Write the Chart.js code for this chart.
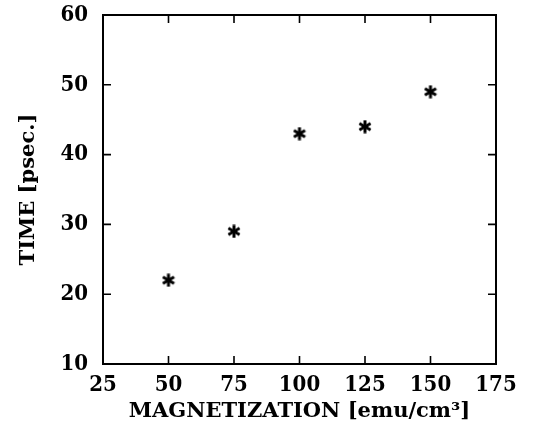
<!DOCTYPE html>
<html>
<head>
<meta charset="utf-8">
<script src="https://cdn.jsdelivr.net/npm/chart.js@4/dist/chart.umd.min.js"></script>
<style>
  html, body { margin: 0; padding: 0; background: #fff; }
  #wrap { width: 533px; height: 440px; }
</style>
</head>
<body>
<div id="wrap"><canvas id="chart" width="533" height="440"></canvas></div>
<script>
// values
const magnetization = [50, 75, 100, 125, 150];
const timePsec = [22, 29, 43, 44, 49];
const xTicks = [25, 50, 75, 100, 125, 150, 175];
const yTicks = [10, 20, 30, 40, 50, 60];

const serifNarrow = "'DejaVu Serif Condensed', 'DejaVu Serif', serif";
const serif = "'DejaVu Serif', serif";

// six-armed asterisk marker
function makeAsterisk(size) {
  const c = document.createElement("canvas");
  c.width = size;
  c.height = size;
  const g = c.getContext("2d");
  g.strokeStyle = "#000";
  g.lineWidth = 3;
  const r = size / 2 - 0.5;
  for (let i = 0; i < 3; i++) {
    const a = Math.PI / 2 + (i * Math.PI) / 3;
    g.beginPath();
    g.moveTo(size / 2 + r * Math.cos(a), size / 2 + r * Math.sin(a));
    g.lineTo(size / 2 - r * Math.cos(a), size / 2 - r * Math.sin(a));
    g.stroke();
  }
  return c;
}

// frame plus inward ticks on all four sides
const frameTicks = {
  id: "frameTicks",
  afterDraw(chart) {
    const { ctx, chartArea: a, scales } = chart;
    const len = 8;
    ctx.save();
    ctx.strokeStyle = "#000";
    ctx.lineWidth = 2;
    ctx.strokeRect(a.left, a.top, a.right - a.left, a.bottom - a.top);
    ctx.lineWidth = 1.6;
    ctx.beginPath();
    xTicks.slice(1, -1).forEach((v) => {
      const px = scales.x.getPixelForValue(v);
      ctx.moveTo(px, a.bottom);
      ctx.lineTo(px, a.bottom - len);
      ctx.moveTo(px, a.top);
      ctx.lineTo(px, a.top + len);
    });
    yTicks.slice(1, -1).forEach((v) => {
      const py = scales.y.getPixelForValue(v);
      ctx.moveTo(a.left, py);
      ctx.lineTo(a.left + len, py);
      ctx.moveTo(a.right, py);
      ctx.lineTo(a.right - len, py);
    });
    ctx.stroke();
    ctx.restore();
  },
};

const ctx = document.getElementById("chart").getContext("2d");
const chart = new Chart(ctx, {
  type: "scatter",
  data: {
    datasets: [
      {
        data: magnetization.map((m, i) => ({ x: m, y: timePsec[i] })),
        pointStyle: makeAsterisk(14),
        pointRadius: 7,
        pointHoverRadius: 7,
      },
    ],
  },
  options: {
    responsive: false,
    animation: false,
    layout: { padding: { left: 0, right: 37, top: 15, bottom: 0 } },
    plugins: { legend: { display: false }, tooltip: { enabled: false } },
    scales: {
      x: {
        type: "linear",
        min: 25,
        max: 175,
        afterBuildTicks: (s) => {
          s.ticks = xTicks.map((v) => ({ value: v }));
        },
        afterFit: (s) => {
          s.height = 76;
          s.paddingLeft = 0;
          s.paddingRight = 0;
        },
        grid: { display: false, drawTicks: false },
        border: { display: false },
        ticks: {
          color: "#000",
          padding: 8,
          maxRotation: 0,
          font: { family: serifNarrow, size: 22, weight: "bold" },
        },
        title: {
          display: true,
          text: "MAGNETIZATION [emu/cm\u00B3]",
          color: "#000",
          padding: { top: 0, bottom: 16 },
          font: { family: serif, size: 21, weight: "bold" },
        },
      },
      y: {
        type: "linear",
        min: 10,
        max: 60,
        afterBuildTicks: (s) => {
          s.ticks = yTicks.map((v) => ({ value: v }));
        },
        afterFit: (s) => {
          s.width = 103;
          s.paddingTop = 0;
          s.paddingBottom = 0;
        },
        grid: { display: false, drawTicks: false },
        border: { display: false },
        ticks: {
          color: "#000",
          padding: 15,
          font: { family: serifNarrow, size: 22, weight: "bold" },
        },
        title: {
          display: true,
          text: "TIME [psec.]",
          color: "#000",
          padding: { top: 16, bottom: 0 },
          font: { family: serif, size: 21, weight: "bold" },
        },
      },
    },
  },
  plugins: [frameTicks],
});
</script>
</body>
</html>
